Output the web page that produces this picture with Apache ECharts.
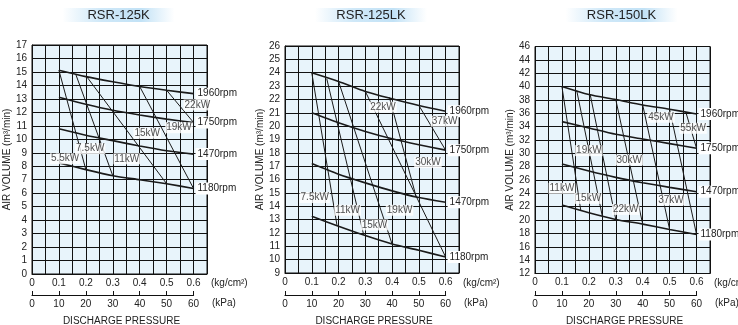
<!DOCTYPE html>
<html><head><meta charset="utf-8">
<script src="https://cdn.jsdelivr.net/npm/echarts@6/dist/echarts.min.js"></script>
<style>html,body{margin:0;padding:0;background:#fff}#c{width:738px;height:325px}</style>
</head><body><div id="c"></div>
<script>
// ---------- DATA ----------
const titles = ['RSR-125K', 'RSR-125LK', 'RSR-150LK'];
const pressures = [0.1, 0.2, 0.3, 0.4, 0.5, 0.6];          // kg/cm2
const rpmNames = ['1960rpm', '1750rpm', '1470rpm', '1180rpm'];
const kgTickLabels = ['0', '0.1', '0.2', '0.3', '0.4', '0.5', '0.6'];
const kpaTickLabels = ['0', '10', '20', '30', '40', '50', '60'];

// RSR-125K air volume (m3/min) per rpm
const k125_1960 = [15.12, 14.65, 14.27, 13.92, 13.64, 13.39];
const k125_1750 = [13.12, 12.60, 12.15, 11.80, 11.50, 11.25];
const k125_1470 = [10.78, 10.30, 9.90, 9.50, 9.15, 8.90];
const k125_1180 = [8.25, 7.75, 7.30, 7.00, 6.70, 6.35];
const k125_kwLines = [
  [[0.1, 15.12], [0.2, 7.75]],
  [[0.163, 14.8], [0.3, 7.3]],
  [[0.204, 14.63], [0.5, 6.7]],
  [[0.4, 13.92], [0.6, 6.35]],
  [[0.5, 13.64], [0.6, 11.25]]
];
const k125_kwLabels = [
  ['5.5kW', 0.123, 8.56], ['7.5kW', 0.216, 9.3], ['11kW', 0.352, 8.55],
  ['15kW', 0.428, 10.45], ['19kW', 0.546, 10.86], ['22kW', 0.614, 12.55]
];

// RSR-125LK
const lk125_1960 = [24.0, 23.35, 22.6, 22.05, 21.55, 21.12];
const lk125_1750 = [21.0, 20.25, 19.6, 19.05, 18.6, 18.2];
const lk125_1470 = [17.2, 16.4, 15.75, 15.15, 14.65, 14.3];
const lk125_1180 = [13.25, 12.5, 11.8, 11.17, 10.7, 10.2];
const lk125_kwLines = [
  [[0.1, 24.0], [0.194, 12.6]],
  [[0.156, 23.55], [0.294, 11.85]],
  [[0.2, 23.35], [0.4, 11.17]],
  [[0.3, 22.6], [0.6, 10.2]],
  [[0.39, 22.15], [0.49, 14.7]],
  [[0.5, 21.55], [0.6, 18.2]]
];
const lk125_kwLabels = [
  ['7.5kW', 0.111, 14.65], ['11kW', 0.234, 13.7], ['15kW', 0.334, 12.6],
  ['19kW', 0.428, 13.7], ['22kW', 0.366, 21.42], ['30kW', 0.534, 17.27],
  ['37kW', 0.596, 20.37]
];

// RSR-150LK
const lk150_1960 = [40.0, 38.8, 38.05, 37.25, 36.6, 35.9];
const lk150_1750 = [34.75, 33.8, 32.85, 32.15, 31.45, 30.75];
const lk150_1470 = [28.4, 27.35, 26.4, 25.6, 24.9, 24.25];
const lk150_1180 = [22.25, 21.1, 20.1, 19.4, 18.6, 17.85];
const lk150_kwLines = [
  [[0.1, 40.0], [0.17, 21.45]],
  [[0.155, 39.4], [0.25, 20.6]],
  [[0.205, 38.8], [0.3, 20.1]],
  [[0.3, 38.05], [0.4, 19.4]],
  [[0.4, 37.25], [0.5, 18.6]],
  [[0.5, 36.6], [0.6, 17.85]],
  [[0.56, 36.2], [0.6, 30.75]]
];
const lk150_kwLabels = [
  ['11kW', 0.1, 24.76], ['15kW', 0.198, 23.25], ['19kW', 0.2, 30.4],
  ['22kW', 0.337, 21.6], ['30kW', 0.35, 29.0], ['37kW', 0.505, 23.0],
  ['45kW', 0.468, 35.4], ['55kW', 0.587, 33.75]
];

const panelData = [
  { rpm: [k125_1960, k125_1750, k125_1470, k125_1180], lines: k125_kwLines, labels: k125_kwLabels },
  { rpm: [lk125_1960, lk125_1750, lk125_1470, lk125_1180], lines: lk125_kwLines, labels: lk125_kwLabels },
  { rpm: [lk150_1960, lk150_1750, lk150_1470, lk150_1180], lines: lk150_kwLines, labels: lk150_kwLabels }
];

// ---------- LAYOUT ----------
const FONT = '"Liberation Sans", Arial, sans-serif';
const TXT = '#222';
const layout = [
  { left: 32, top: 45, w: 175, h: 229, ymin: 0, ymax: 17, yint: 1 },
  { left: 285, top: 46, w: 174, h: 227, ymin: 9, ymax: 26, yint: 1 },
  { left: 535, top: 46.5, w: 175, h: 227, ymin: 12, ymax: 46, yint: 2 }
];

const grid = [], xAxis = [], yAxis = [], series = [], graphic = [];

layout.forEach((L, i) => {
  grid.push({ left: L.left, top: L.top, width: L.w, height: L.h, show: true,
    backgroundColor: '#e8f4fb', borderColor: '#111', borderWidth: 1 });
});
layout.forEach((L, i) => {
  grid.push({ left: L.left, top: 294, width: L.w * 0.6 / 0.65, height: 1, show: false });
});

layout.forEach((L, i) => {
  xAxis.push({
    type: 'value', gridIndex: i, min: 0, max: 0.65, interval: 0.05,
    axisLine: { show: true, lineStyle: { color: '#111', width: 1 } },
    axisTick: { show: false },
    splitLine: { show: true, lineStyle: { color: '#111', width: 1 } },
    axisLabel: {
      margin: 4, fontSize: 10, color: TXT, fontFamily: FONT,
      formatter: v => { const k = Math.round(v * 100); return (k % 10 === 0 && k <= 60) ? kgTickLabels[k / 10] : ''; }
    }
  });
  yAxis.push({
    type: 'value', gridIndex: i, min: L.ymin, max: L.ymax, interval: L.yint,
    axisLine: { show: true, lineStyle: { color: '#111', width: 1 } },
    axisTick: { show: false },
    splitLine: { show: true, lineStyle: { color: '#111', width: 1 } },
    axisLabel: { margin: 5, fontSize: 10, color: TXT, fontFamily: FONT },
    name: 'AIR VOLUME (m³/min)', nameLocation: 'middle', nameRotate: 90, nameGap: 19,
    nameTextStyle: { fontSize: 10, color: TXT, fontFamily: FONT }
  });
});
layout.forEach((L, i) => {
  xAxis.push({
    type: 'value', gridIndex: 3 + i, min: 0, max: 60, interval: 10, position: 'bottom',
    axisLine: { show: true, lineStyle: { color: '#111', width: 1.2 } },
    axisTick: { show: true, inside: true, length: 4, lineStyle: { color: '#111' } },
    splitLine: { show: false },
    axisLabel: { margin: 4, fontSize: 10, color: TXT, fontFamily: FONT,
      formatter: v => kpaTickLabels[Math.round(v / 10)] }
  });
  yAxis.push({ type: 'value', gridIndex: 3 + i, show: false, min: 0, max: 1 });
});

panelData.forEach((P, i) => {
  P.rpm.forEach((arr, k) => {
    series.push({
      type: 'line', xAxisIndex: i, yAxisIndex: i, smooth: 0.25, symbol: 'none', z: 3,
      data: pressures.map((p, j) => [p, arr[j]]),
      lineStyle: { color: '#1a1a1a', width: 1.6 },
      endLabel: { show: true, formatter: rpmNames[k], distance: 2, fontSize: 10, color: TXT,
        fontFamily: FONT, backgroundColor: '#fff', padding: [1, 1, 1, 2] }
    });
  });
  P.lines.forEach(seg => {
    series.push({
      type: 'line', xAxisIndex: i, yAxisIndex: i, symbol: 'none', z: 2,
      data: seg, lineStyle: { color: '#1a1a1a', width: 1 }
    });
  });
  series.push({
    type: 'scatter', xAxisIndex: i, yAxisIndex: i, symbolSize: 0, z: 6,
    data: P.labels.map(l => ({ name: l[0], value: [l[1], l[2]] })),
    label: { show: true, position: 'inside', formatter: '{b}', fontSize: 10, color: TXT,
      fontFamily: FONT, backgroundColor: '#fff', padding: [1, 1, 0, 1] }
  });
});

const bandGrad = () => new echarts.graphic.LinearGradient(0, 0, 1, 0, [
  { offset: 0, color: 'rgba(198,228,247,0)' },
  { offset: 0.35, color: '#cfe8f8' },
  { offset: 0.7, color: '#c2e2f6' },
  { offset: 1, color: 'rgba(198,228,247,0)' }
]);
layout.forEach((L, i) => {
  const cx = L.left + L.w / 2 - 1;
  graphic.push({ type: 'rect', shape: { x: cx - 56, y: 8, width: 112, height: 14 }, style: { fill: bandGrad() }, z: 1 });
  graphic.push({ type: 'text', x: cx, y: 15, z: 2,
    style: { text: titles[i], font: '13px ' + FONT, fill: TXT, align: 'center', verticalAlign: 'middle',
      textAlign: 'center', textVerticalAlign: 'middle' } });
  const ux = L.left + L.w + 4;
  graphic.push({ type: 'text', x: ux, y: 283, style: { text: '(kg/cm²)', font: '10px ' + FONT, fill: TXT,
    verticalAlign: 'middle', textVerticalAlign: 'middle' } });
  graphic.push({ type: 'text', x: ux + 1, y: 303, style: { text: '(kPa)', font: '10px ' + FONT, fill: TXT,
    verticalAlign: 'middle', textVerticalAlign: 'middle' } });
  graphic.push({ type: 'text', x: cx + 3, y: 321, style: { text: 'DISCHARGE PRESSURE', font: '10px ' + FONT, fill: TXT,
    align: 'center', verticalAlign: 'middle', textAlign: 'center', textVerticalAlign: 'middle' } });
});

const chart = echarts.init(document.getElementById('c'), null, { renderer: 'canvas' });
chart.setOption({ animation: false, backgroundColor: '#fff', grid, xAxis, yAxis, series, graphic });
</script></body></html>
